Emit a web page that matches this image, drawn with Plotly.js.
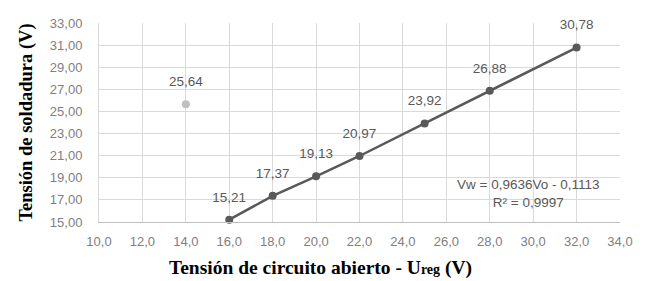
<!DOCTYPE html>
<html><head><meta charset="utf-8">
<script src="https://cdn.plot.ly/plotly-3.0.1.min.js"></script>
<style>html,body{margin:0;padding:0;background:#fff}#c{width:650px;height:281px}</style>
</head><body><div id="c"></div>
<script>
const xMain = [16, 18, 20, 22, 25, 28, 32];
const yMain = [15.21, 17.37, 19.13, 20.97, 23.92, 26.88, 30.78];
const labelsMain = ["15,21", "17,37", "19,13", "20,97", "23,92", "26,88", "30,78"];
const xOut = [14];
const yOut = [25.64];
const labelsOut = ["25,64"];
const xTicks = [10, 12, 14, 16, 18, 20, 22, 24, 26, 28, 30, 32, 34];
const yTicks = [15, 17, 19, 21, 23, 25, 27, 29, 31, 33];
const eqText = "Vw = 0,9636Vo - 0,1113<br>R² = 0,9997";

const tickFont = {family: "Liberation Sans, Arial, sans-serif", size: 13, color: "#808080"};
const labelFont = {family: "Liberation Sans, Arial, sans-serif", size: 13.5, color: "#595959"};
const yTitleFont = {family: "Liberation Serif, Times New Roman, serif", size: 18.5, color: "#000"};
const xTitleFont = {family: "Liberation Serif, Times New Roman, serif", size: 19.5, color: "#000"};

const traces = [
  {x: xMain, y: yMain, mode: "lines+markers", line: {color: "#595959", width: 2.5},
   marker: {color: "#595959", size: 8}, cliponaxis: false, hoverinfo: "none"},
  {x: xOut, y: yOut, mode: "markers", marker: {color: "#bfbfbf", size: 8}, cliponaxis: false, hoverinfo: "none"},
  {x: xMain.concat(xOut), y: yMain.concat(yOut), mode: "markers+text", text: labelsMain.concat(labelsOut),
   textposition: "top center", textfont: labelFont, marker: {size: 22, opacity: 0},
   cliponaxis: false, hoverinfo: "none"}
];

const layout = {
  width: 650, height: 281,
  margin: {l: 99, r: 30, t: 23, b: 59},
  paper_bgcolor: "#fff", plot_bgcolor: "#fff",
  separators: ", ",
  showlegend: false,
  font: tickFont,
  xaxis: {range: [10, 34], tickvals: xTicks, tickformat: ".1f", showgrid: true, gridcolor: "#d9d9d9",
          zeroline: false, showline: true, linecolor: "#bfbfbf", ticks: "outside", ticklen: 7,
          tickcolor: "rgba(0,0,0,0)", tickfont: tickFont},
  yaxis: {range: [15, 33], tickvals: yTicks, tickformat: ".2f", showgrid: true, gridcolor: "#d9d9d9",
          zeroline: false, showline: true, linecolor: "#d9d9d9", ticks: "outside", ticklen: 13,
          tickcolor: "rgba(0,0,0,0)", tickfont: tickFont,
          title: {text: "<b>Tensión de soldadura (V)</b>", standoff: 12, font: yTitleFont}},
  annotations: [
    {xref: "paper", yref: "paper", x: (320 - 99) / (650 - 99 - 30), y: -(268 - 222) / (281 - 23 - 59),
     xanchor: "center", yanchor: "middle", showarrow: false,
     text: "<b>Tensión de circuito abierto - U<span style=\"font-size:14px\">reg</span> (V)</b>",
     font: xTitleFont},
    {xref: "x", yref: "y", x: 29.75, y: 17.55, showarrow: false, text: eqText, align: "center",
     font: labelFont}
  ]
};

Plotly.newPlot("c", traces, layout, {staticPlot: true});
</script></body></html>
